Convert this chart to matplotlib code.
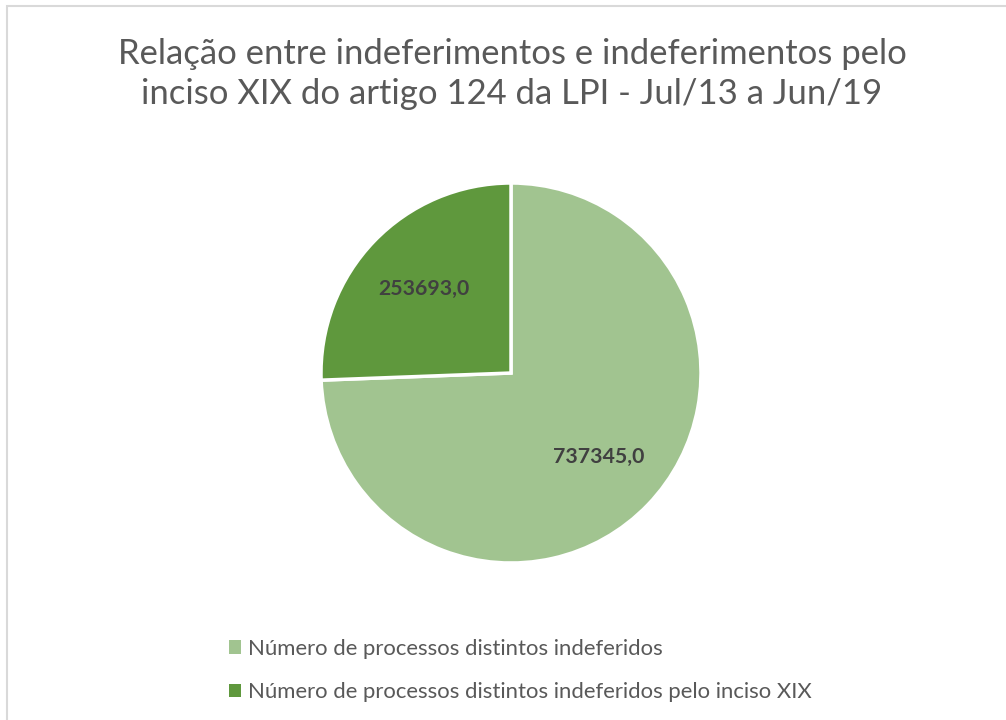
import matplotlib.pyplot as plt
from matplotlib.patches import Rectangle, Patch

# dados do grafico
labels = ['Número de processos distintos indeferidos',
          'Número de processos distintos indeferidos pelo inciso XIX']
valores = [737345.0, 253693.0]
cores = ['#A1C490', '#5F983D']
titulo = 'Relação entre indeferimentos e indeferimentos pelo\ninciso XIX do artigo 124 da LPI - Jul/13 a Jun/19'

plt.rcParams['font.family'] = ['Lato', 'DejaVu Sans']

W, H = 1006, 720
fig = plt.figure(figsize=(W / 100, H / 100), dpi=100)

# moldura cinza em volta do grafico
fig.patches.append(Rectangle((6.5 / W, -0.1), 1.2, 1 - 5.5 / H + 0.1,
                             transform=fig.transFigure, fill=False,
                             edgecolor='#D9D9D9', linewidth=1.5))

fig.text(512 / W, 1 - 74 / H, titulo, ha='center', va='center',
         fontsize=24.9, color='#595959', linespacing=1.32)

# pizza: centro (511, 373), raio 190 px
cx, cy, r = 511, 373, 190
ax = fig.add_axes([(cx - r) / W, (H - cy - r) / H, 2 * r / W, 2 * r / H])
wedges, textos, autotextos = ax.pie(
    valores, colors=cores, startangle=90, counterclock=False,
    autopct='%1.1f', pctdistance=0.64,
    wedgeprops=dict(edgecolor='white', linewidth=2.5),
    textprops=dict(fontsize=15.3, fontweight='bold', color='#404040'))
for t, v in zip(autotextos, valores):
    t.set_text(f'{v:.1f}'.replace('.', ','))
ax.set_xlim(-1, 1)
ax.set_ylim(-1, 1)
ax.set_aspect('equal')

handles = [Patch(facecolor=c, edgecolor='none') for c in cores]
leg = fig.legend(handles, labels, loc='upper left',
                 bbox_to_anchor=(209 / W, 1 - 619 / H), frameon=False,
                 fontsize=15.9, labelcolor='#595959', handlelength=0.55,
                 handleheight=0.55, handletextpad=0.3, labelspacing=1.05)

fig.savefig('out.png', dpi=100)
